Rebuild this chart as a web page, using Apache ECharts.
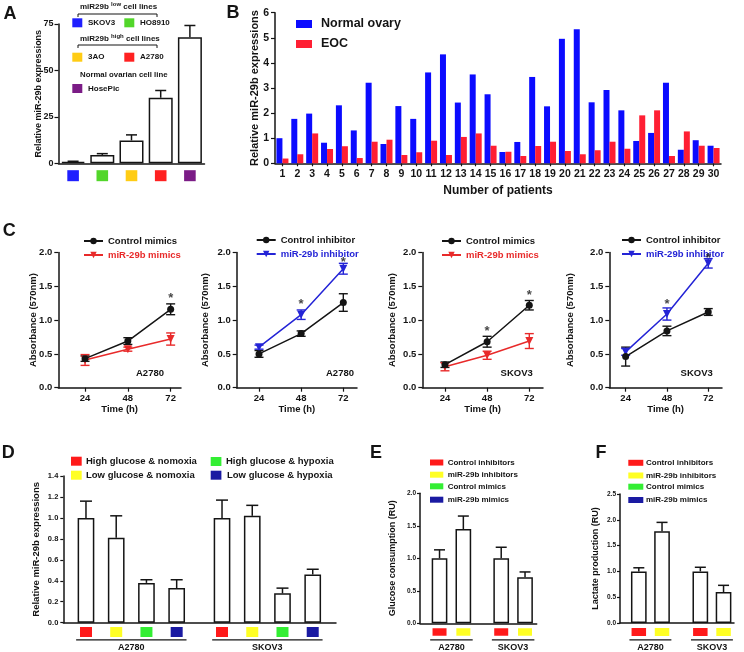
<!DOCTYPE html>
<html><head><meta charset="utf-8">
<script src="https://cdn.jsdelivr.net/npm/echarts@6/dist/echarts.min.js"></script>
<style>html,body{margin:0;padding:0;background:#fff}#c{width:744px;height:652px}</style>
</head><body><div id="c"></div>
<script>
// ================= DATA =================
// Panel A
const A_cellLines = ['SKOV3', 'HO8910', '3AO', 'A2780', 'HosePic'];
const A_means = [0.8, 4.5, 12.3, 35.3, 67.8];
const A_sems = [0.3, 0.7, 3.0, 3.9, 6.4];
const A_ticks = [0, 25, 50, 75];

// Panel B
const B_patients = ['1','2','3','4','5','6','7','8','9','10','11','12','13','14','15','16','17','18','19','20','21','22','23','24','25','26','27','28','29','30'];
const B_normalOvary = [1.00,1.77,1.98,0.82,2.31,1.31,3.21,0.77,2.28,1.77,3.62,4.34,2.42,3.54,2.75,0.45,0.85,3.44,2.27,4.96,5.34,2.43,2.92,2.11,0.89,1.21,3.21,0.54,0.92,0.70];
const B_eoc = [0.19,0.36,1.19,0.57,0.68,0.21,0.86,0.94,0.33,0.44,0.90,0.33,1.05,1.19,0.70,0.46,0.29,0.69,0.86,0.49,0.36,0.52,0.86,0.58,1.91,2.11,0.29,1.27,0.70,0.61];

// Panel C (time points in hours)
const C_time = [24, 48, 72];
const C1_ctrl = [0.43, 0.69, 1.16], C1_ctrlErr = [0.04, 0.05, 0.08];
const C1_trt  = [0.41, 0.57, 0.72], C1_trtErr  = [0.08, 0.03, 0.09];
const C1_stars = [[72, 1.36]];
const C2_ctrl = [0.50, 0.80, 1.26], C2_ctrlErr = [0.05, 0.04, 0.13];
const C2_trt  = [0.60, 1.08, 1.76], C2_trtErr  = [0.03, 0.07, 0.08];
const C2_stars = [[48, 1.27], [72, 1.90]];
const C3_ctrl = [0.34, 0.68, 1.22], C3_ctrlErr = [0.04, 0.08, 0.07];
const C3_trt  = [0.31, 0.48, 0.69], C3_trtErr  = [0.06, 0.06, 0.11];
const C3_stars = [[48, 0.88], [72, 1.41]];
const C4_ctrl = [0.46, 0.84, 1.12], C4_ctrlErr = [0.14, 0.07, 0.05];
const C4_trt  = [0.53, 1.09, 1.84], C4_trtErr  = [0.05, 0.09, 0.07];
const C4_stars = [[48, 1.27], [72, 1.96]];

// Panel D
const D_cellLines = ['A2780', 'SKOV3'];
const D_conditions = ['High glucose & nomoxia', 'Low glucose & nomoxia', 'High glucose & hypoxia', 'Low glucose & hypoxia'];
const D_A2780 = [1.00, 0.81, 0.38, 0.33], D_A2780_err = [0.16, 0.21, 0.03, 0.08];
const D_SKOV3 = [1.00, 1.02, 0.28, 0.46], D_SKOV3_err = [0.17, 0.10, 0.05, 0.05];

// Panels E, F
const EF_conditions = ['Control inhibitors', 'miR-29b inhibitors', 'Control mimics', 'miR-29b mimics'];
const EF_cellLines = ['A2780', 'SKOV3'];
const E_glucose = [1.00, 1.45, 1.00, 0.71], E_glucoseErr = [0.13, 0.20, 0.17, 0.08];
const F_lactate = [1.00, 1.78, 1.00, 0.60], F_lactateErr = [0.07, 0.17, 0.08, 0.13];

// ================= STYLE / LAYOUT =================
const FONT = '"Liberation Sans", Arial, sans-serif';
const INK = '#141414';
const A_colors = ['#1f1fff', '#52d62a', '#ffcc14', '#ff2121', '#7b1c86'];
const B_colors = ['#0b0bff', '#ff1f33'];
const C_red = '#e82a2a', C_blue = '#2424d6';
const DEF_colors = ['#ff1a1a', '#ffff24', '#33ee33', '#1a1aa2'];

const chart = echarts.init(document.getElementById('c'), null, {renderer: 'canvas', width: 744, height: 652});

function yAx(gi, max, interval, o) {
  return {
    gridIndex: gi, type: 'value', min: 0, max: max, interval: interval,
    axisLine: {show: true, onZero: false, lineStyle: {color: INK, width: 1.5}},
    axisTick: {show: true, length: o.tickLen || 3, lineStyle: {color: INK, width: 1.2}},
    axisLabel: {fontSize: o.fs, margin: o.margin, color: INK, fontWeight: 'bold', fontFamily: FONT,
      formatter: o.fmt || (v => String(v))},
    splitLine: {show: false},
    name: o.name, nameLocation: 'middle', nameGap: o.nameGap, nameRotate: 90, nameMoveOverlap: false,
    nameTextStyle: {fontSize: o.nameFs, fontWeight: 'bold', color: INK, fontFamily: FONT}
  };
}
const fmt1 = v => v.toFixed(1);
function plainX(gi, min, max) {
  return {gridIndex: gi, type: 'value', min: min, max: max,
    axisLine: {show: true, onZero: false, lineStyle: {color: INK, width: 1.5}},
    axisTick: {show: false}, axisLabel: {show: false}, splitLine: {show: false}};
}
function timeX(gi, min, max) {
  return {gridIndex: gi, type: 'value', min: min, max: max,
    axisLine: {show: true, onZero: false, lineStyle: {color: INK, width: 1.5}},
    axisTick: {show: true, length: 4, customValues: C_time, lineStyle: {color: INK, width: 1.2}},
    axisLabel: {show: true, customValues: C_time, fontSize: 9.5, margin: 6, color: INK, fontWeight: 'bold', fontFamily: FONT},
    splitLine: {show: false},
    name: 'Time (h)', nameLocation: 'middle', nameGap: 17, nameMoveOverlap: false,
    nameTextStyle: {fontSize: 9.5, fontWeight: 'bold', color: INK, fontFamily: FONT}};
}

// error bar renderer
function errBar(color, capW, both, lw) {
  return function (params, api) {
    const x = api.value(0), y = api.value(1), e = api.value(2);
    const top = api.coord([x, y + e]);
    const bot = api.coord([x, both ? y - e : y]);
    const h = capW / 2;
    const st = {stroke: color, lineWidth: lw || 1.5};
    const ch = [
      {type: 'line', shape: {x1: top[0], y1: top[1], x2: bot[0], y2: bot[1]}, style: st},
      {type: 'line', shape: {x1: top[0] - h, y1: top[1], x2: top[0] + h, y2: top[1]}, style: st}
    ];
    if (both) ch.push({type: 'line', shape: {x1: bot[0] - h, y1: bot[1], x2: bot[0] + h, y2: bot[1]}, style: st});
    return {type: 'group', children: ch};
  };
}

// group layout for D/E/F (value-axis slot positions)
function slot(k, perGroup, gap) { return Math.floor(k / perGroup) * (perGroup + gap) + (k % perGroup); }
const D_layout = {perGroup: 4, gap: 0.5, barW: 16.7};
const E_layout = {perGroup: 2, gap: 0.59, barW: 15.7};
const F_layout = {perGroup: 2, gap: 0.65, barW: 15.7};

const D_vals = D_A2780.concat(D_SKOV3), D_errs = D_A2780_err.concat(D_SKOV3_err);

// C panels config
const C_panels = [
  {ctrl: C1_ctrl, ce: C1_ctrlErr, trt: C1_trt, te: C1_trtErr, stars: C1_stars, ctrlName: 'Control mimics', trtName: 'miR-29b mimics', col: C_red},
  {ctrl: C2_ctrl, ce: C2_ctrlErr, trt: C2_trt, te: C2_trtErr, stars: C2_stars, ctrlName: 'Control inhibitor', trtName: 'miR-29b inhibitor', col: C_blue},
  {ctrl: C3_ctrl, ce: C3_ctrlErr, trt: C3_trt, te: C3_trtErr, stars: C3_stars, ctrlName: 'Control mimics', trtName: 'miR-29b mimics', col: C_red},
  {ctrl: C4_ctrl, ce: C4_ctrlErr, trt: C4_trt, te: C4_trtErr, stars: C4_stars, ctrlName: 'Control inhibitor', trtName: 'miR-29b inhibitor', col: C_blue}
];
const C_grid = [
  {left: 58.3, width: 122.7, min: 9.0, max: 77.8, nameGap: 20, legL: 78, legT: 230},
  {left: 236.7, width: 120.3, min: 11.3, max: 79.8, nameGap: 26, legL: 250.7, legT: 229},
  {left: 422.3, width: 120.7, min: 11.1, max: 79.8, nameGap: 25, legL: 436, legT: 230},
  {left: 609.3, width: 112.7, min: 14.5, max: 80.0, nameGap: 34, legL: 616, legT: 229}
];

const grids = [
  {left: 58.5, top: 24, width: 146, height: 139.3},
  {left: 275, top: 12.7, width: 446, height: 150.6}
];
C_grid.forEach(g => grids.push({left: g.left, top: 252.5, width: g.width, height: 135.2}));
grids.push({left: 63.3, top: 476, width: 272.7, height: 146.7});
grids.push({left: 420, top: 493.3, width: 116.7, height: 130});
grids.push({left: 620, top: 494, width: 114, height: 129});
grids.forEach(g => { g.outerBoundsMode = 'none'; g.containLabel = false; });

const xAxes = [
  {gridIndex: 0, type: 'category', data: A_cellLines,
    axisLine: {show: true, onZero: false, lineStyle: {color: INK, width: 1.5}}, axisTick: {show: false}, axisLabel: {show: false}},
  {gridIndex: 1, type: 'category', data: B_patients,
    axisLine: {show: true, onZero: false, lineStyle: {color: INK, width: 1.5}},
    axisTick: {show: true, alignWithLabel: true, length: 3, lineStyle: {color: INK, width: 1.2}},
    axisLabel: {interval: 0, fontSize: 10.5, margin: 5, color: INK, fontWeight: 'bold', fontFamily: FONT},
    name: 'Number of patients', nameLocation: 'middle', nameGap: 21, nameMoveOverlap: false,
    nameTextStyle: {fontSize: 12, fontWeight: 'bold', color: INK, fontFamily: FONT}}
];
C_grid.forEach((g, k) => xAxes.push(timeX(2 + k, g.min, g.max)));
xAxes.push(plainX(6, -0.75, 8.27));
xAxes.push(plainX(7, -0.82, 4.08));
xAxes.push(plainX(8, -0.81, 4.10));

const yAxes = [
  yAx(0, 75, 25, {fs: 9, margin: 5, tickLen: 4, name: 'Relative miR-29b expressions', nameFs: 9, nameGap: 15}),
  yAx(1, 6, 1, {fs: 10.5, margin: 6, tickLen: 4, name: 'Relative miR-29b expressions', nameFs: 11, nameGap: 15})
];
C_grid.forEach((g, k) => yAxes.push(yAx(2 + k, 2, 0.5, {fs: 9.5, margin: 6, tickLen: 4, fmt: fmt1, name: 'Absorbance (570nm)', nameFs: 9.5, nameGap: g.nameGap})));
yAxes.push(yAx(6, 1.4, 0.2, {fs: 7.5, margin: 5, tickLen: 3, fmt: fmt1, name: 'Relative miR-29b expressions', nameFs: 9.5, nameGap: 22}));
yAxes.push(yAx(7, 2, 0.5, {fs: 6.5, margin: 4, tickLen: 3, fmt: fmt1, name: 'Glucose consumption (RU)', nameFs: 9, nameGap: 23}));
yAxes.push(yAx(8, 2.5, 0.5, {fs: 6.5, margin: 4, tickLen: 3, fmt: fmt1, name: 'Lactate production (RU)', nameFs: 9, nameGap: 19.5}));

const whiteBar = {color: '#fff', borderColor: INK, borderWidth: 1.5};
const series = [];
// A
series.push({type: 'bar', name: 'miR-29b (cell lines)', xAxisIndex: 0, yAxisIndex: 0, data: A_means, barWidth: 24, itemStyle: whiteBar, z: 2});
series.push({type: 'custom', xAxisIndex: 0, yAxisIndex: 0, data: A_means.map((m, i) => [i, m, A_sems[i]]), renderItem: errBar(INK, 11, false), z: 3});
// B
series.push({type: 'bar', name: 'Normal ovary', xAxisIndex: 1, yAxisIndex: 1, data: B_normalOvary, barWidth: 6, barGap: '0%', itemStyle: {color: B_colors[0]}});
series.push({type: 'bar', name: 'EOC', xAxisIndex: 1, yAxisIndex: 1, data: B_eoc, barWidth: 6, barGap: '0%', itemStyle: {color: B_colors[1]}});
// C
C_panels.forEach((p, k) => {
  const ax = 2 + k;
  series.push({type: 'custom', xAxisIndex: ax, yAxisIndex: ax, data: C_time.map((t, i) => [t, p.ctrl[i], p.ce[i]]), renderItem: errBar(INK, 9, true, 1.4), z: 2});
  series.push({type: 'custom', xAxisIndex: ax, yAxisIndex: ax, data: C_time.map((t, i) => [t, p.trt[i], p.te[i]]), renderItem: errBar(p.col, 9, true, 1.4), z: 2});
  series.push({type: 'line', name: p.ctrlName, xAxisIndex: ax, yAxisIndex: ax, data: C_time.map((t, i) => [t, p.ctrl[i]]),
    symbol: 'circle', symbolSize: 7, lineStyle: {color: INK, width: 1.5}, itemStyle: {color: INK}, z: 4});
  series.push({type: 'line', name: p.trtName, xAxisIndex: ax, yAxisIndex: ax, data: C_time.map((t, i) => [t, p.trt[i]]),
    symbol: 'triangle', symbolRotate: 180, symbolSize: 8, lineStyle: {color: p.col, width: 1.5}, itemStyle: {color: p.col}, z: 3});
  series.push({type: 'scatter', xAxisIndex: ax, yAxisIndex: ax, data: p.stars, symbolSize: 1, itemStyle: {color: 'rgba(0,0,0,0)'},
    label: {show: true, position: 'inside', formatter: '*', fontSize: 13, fontWeight: 'bold', color: INK, fontFamily: FONT, offset: [0, 3]}, z: 5});
});
// D
series.push({type: 'bar', name: 'Relative miR-29b (glucose/oxygen)', xAxisIndex: 6, yAxisIndex: 6,
  data: D_vals.map((v, k) => [slot(k, D_layout.perGroup, D_layout.gap), v]), barWidth: D_layout.barW, itemStyle: whiteBar});
series.push({type: 'custom', xAxisIndex: 6, yAxisIndex: 6,
  data: D_vals.map((v, k) => [slot(k, D_layout.perGroup, D_layout.gap), v, D_errs[k]]), renderItem: errBar(INK, 12, false), z: 3});
// E
series.push({type: 'bar', name: 'Glucose consumption', xAxisIndex: 7, yAxisIndex: 7,
  data: E_glucose.map((v, k) => [slot(k, E_layout.perGroup, E_layout.gap), v]), barWidth: E_layout.barW, itemStyle: whiteBar});
series.push({type: 'custom', xAxisIndex: 7, yAxisIndex: 7,
  data: E_glucose.map((v, k) => [slot(k, E_layout.perGroup, E_layout.gap), v, E_glucoseErr[k]]), renderItem: errBar(INK, 11, false), z: 3});
// F
series.push({type: 'bar', name: 'Lactate production', xAxisIndex: 8, yAxisIndex: 8,
  data: F_lactate.map((v, k) => [slot(k, F_layout.perGroup, F_layout.gap), v]), barWidth: F_layout.barW, itemStyle: whiteBar});
series.push({type: 'custom', xAxisIndex: 8, yAxisIndex: 8,
  data: F_lactate.map((v, k) => [slot(k, F_layout.perGroup, F_layout.gap), v, F_lactateErr[k]]), renderItem: errBar(INK, 11, false), z: 3});

// legends (B and C)
const legends = [{
  orient: 'vertical', left: 291, top: 12, itemWidth: 16, itemHeight: 8, itemGap: 6, icon: 'rect',
  data: ['Normal ovary', 'EOC'],
  textStyle: {fontSize: 12.5, fontWeight: 'bold', color: INK, fontFamily: FONT, lineHeight: 14, padding: [0, 0, 0, 4]}
}];
C_panels.forEach((p, k) => {
  legends.push({
    orient: 'vertical', left: C_grid[k].legL, top: C_grid[k].legT, itemWidth: 19, itemHeight: 8, itemGap: 2,
    data: [{name: p.ctrlName}, {name: p.trtName, textStyle: {color: p.col}}],
    textStyle: {fontSize: 9.5, fontWeight: 'bold', color: INK, fontFamily: FONT, lineHeight: 12}
  });
});

// ---------- static graphics ----------
function txt(x, y, text, fs, o) {
  o = o || {};
  return {type: 'text', x: x, y: y, silent: true, style: Object.assign({text: text, fontSize: fs, fontFamily: FONT, fontWeight: 'bold', fill: INK, align: o.align || 'left', verticalAlign: 'middle'}, o.style || {})};
}
function rect(x, y, w, h, fill) { return {type: 'rect', silent: true, shape: {x: x, y: y, width: w, height: h}, style: {fill: fill}}; }
function pline(pts, w) { return {type: 'polyline', silent: true, shape: {points: pts}, style: {stroke: INK, lineWidth: w || 1, fill: null}}; }

const statics = [
  txt(10, 14, 'A', 18, {align: 'center'}),
  txt(233, 13.5, 'B', 18, {align: 'center'}),
  txt(9.2, 231, 'C', 18, {align: 'center'}),
  txt(8.3, 452.7, 'D', 18, {align: 'center'}),
  txt(376, 452.9, 'E', 18, {align: 'center'}),
  txt(601, 452.9, 'F', 18, {align: 'center'}),
  // A legend
  {type: 'text', x: 80, y: 6.7, silent: true, style: {text: '{a|miR29b }{s|low}{a| cell lines}', verticalAlign: 'middle', fontFamily: FONT, fontWeight: 'bold', fill: INK,
    rich: {a: {fontSize: 8, fontFamily: FONT, fontWeight: 'bold', fill: INK}, s: {fontSize: 6, fontFamily: FONT, fontWeight: 'bold', fill: INK, padding: [0, 0, 5, 0]}}}},
  pline([[78, 17], [78, 14], [157, 14], [157, 17]], 1),
  rect(72.3, 18.3, 10, 9, A_colors[0]), txt(88, 22.7, A_cellLines[0], 8),
  rect(124.3, 18.3, 10, 9, A_colors[1]), txt(140, 22.7, A_cellLines[1], 8),
  {type: 'text', x: 80, y: 39, silent: true, style: {text: '{a|miR29b }{s|high}{a| cell lines}', verticalAlign: 'middle', fontFamily: FONT, fontWeight: 'bold', fill: INK,
    rich: {a: {fontSize: 8, fontFamily: FONT, fontWeight: 'bold', fill: INK}, s: {fontSize: 6, fontFamily: FONT, fontWeight: 'bold', fill: INK, padding: [0, 0, 5, 0]}}}},
  pline([[78, 48], [78, 45], [157, 45], [157, 48]], 1),
  rect(72.3, 52.7, 10, 9, A_colors[2]), txt(88, 57.2, A_cellLines[2], 8),
  rect(124.3, 52.7, 10, 9, A_colors[3]), txt(140, 57.2, A_cellLines[3], 8),
  txt(80, 75, 'Normal ovarian cell line', 7.8),
  rect(72.3, 84, 10, 9, A_colors[4]), txt(88, 88.7, A_cellLines[4], 8),
  // C annotations
  txt(150, 373.3, 'A2780', 9.5, {align: 'center'}),
  txt(340, 373.3, 'A2780', 9.5, {align: 'center'}),
  txt(516.7, 373.3, 'SKOV3', 9.5, {align: 'center'}),
  txt(696.7, 373.3, 'SKOV3', 9.5, {align: 'center'}),
  // D legend
  rect(71, 456.7, 10.7, 9, DEF_colors[0]), txt(86, 461.2, D_conditions[0], 9.5),
  rect(71, 470.7, 10.7, 9, DEF_colors[1]), txt(86, 475.5, D_conditions[1], 9.5),
  rect(210.7, 457, 10.7, 9, DEF_colors[2]), txt(226, 461.2, D_conditions[2], 9.5),
  rect(210.7, 470.7, 10.7, 9, DEF_colors[3]), txt(227, 475.5, D_conditions[3], 9.5)
];
// E & F legends
[[430, 13.3, 447.7, [459.5, 471.7, 483.3, 496.7]], [628.3, 15, 646, [459.8, 472.5, 483.7, 497]]].forEach(L => {
  EF_conditions.forEach((c, i) => {
    statics.push(rect(L[0], L[3][i], L[1], 6, DEF_colors[i]));
    statics.push(txt(L[2], L[3][i] + 3, c, 8));
  });
});

chart.setOption({
  animation: false,
  textStyle: {fontFamily: FONT, fontWeight: 'bold', color: INK},
  grid: grids, xAxis: xAxes, yAxis: yAxes, legend: legends, series: series,
  graphic: statics
});

// ---------- graphics tied to axis scales (colour keys, group underlines) ----------
const dyn = [];
A_cellLines.forEach((n, i) => {
  const x = chart.convertToPixel({xAxisIndex: 0}, i);
  dyn.push(rect(x - 5.8, 170.2, 11.6, 11, A_colors[i]));
});
function groupKeys(axisIdx, nBars, layout, keyW, keyH, groups) {
  const px = [];
  for (let k = 0; k < nBars; k++) px.push(chart.convertToPixel({xAxisIndex: axisIdx}, slot(k, layout.perGroup, layout.gap)));
  px.forEach((x, k) => dyn.push(rect(x - keyW / 2, 632 - keyH / 2, keyW, keyH, DEF_colors[k % layout.perGroup])));
  groups.forEach((g, gi) => {
    const a = px[gi * layout.perGroup] - layout.barW / 2 - 1.5;
    const b = px[gi * layout.perGroup + layout.perGroup - 1] + layout.barW / 2 + 1.5;
    dyn.push(pline([[a, 639.8], [b, 639.8]], 1.2));
    dyn.push(txt((a + b) / 2, 647.6, g, 9, {align: 'center'}));
  });
}
groupKeys(6, 8, D_layout, 12, 10, D_cellLines);
groupKeys(7, 4, E_layout, 14, 7.5, EF_cellLines);
groupKeys(8, 4, F_layout, 14.5, 8, EF_cellLines);

chart.setOption({graphic: statics.concat(dyn)});
</script>
</body></html>
